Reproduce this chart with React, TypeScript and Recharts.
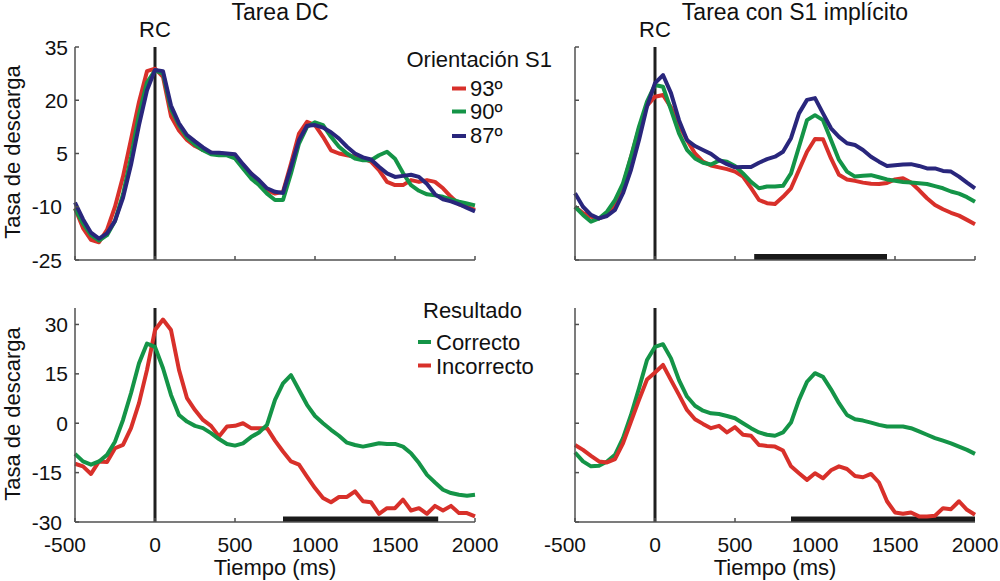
import React from "react";
import { LineChart, Line, XAxis, YAxis, ReferenceLine, ReferenceArea } from "recharts";

// time axis (ms), one sample every 50 ms
const times = [
  -500, -450, -400, -350, -300, -250, -200, -150, -100, -50,
  0, 50, 100, 150, 200, 250, 300, 350, 400, 450,
  500, 550, 600, 650, 700, 750, 800, 850, 900, 950,
  1000, 1050, 1100, 1150, 1200, 1250, 1300, 1350, 1400, 1450,
  1500, 1550, 1600, 1650, 1700, 1750, 1800, 1850, 1900, 1950, 2000,
];

// Tarea DC, orientation S1
const dc93 = [-10.4, -16, -19.3, -20, -16.5, -10, -1.5, 9, 19.5, 28.2, 28.9, 26.6, 15.5, 11.5, 8.8, 7.1, 6, 5.2, 5, 4.8, 4.1, 1.7, -0.6, -3, -5.3, -6.3, -5.8, 2.2, 10.6, 13.9, 13, 9.7, 5.9, 5, 4.5, 4.1, 3.6, 2.7, 0.3, -3, -3.9, -3.9, -2.5, -3, -2.5, -3, -4.8, -7.2, -9.3, -10, -10.9];
const dc90 = [-10.5, -14.7, -18, -19.5, -18, -14, -6.5, 4, 16, 25, 28.4, 27.5, 17.5, 13, 9.5, 7.5, 5.9, 4.8, 4.5, 4.5, 3.6, 0.8, -2, -3.9, -6.3, -8.1, -8.1, -0.6, 7.8, 12.5, 13.8, 13, 9.7, 6.9, 5, 3.6, 3.1, 3.1, 4.5, 5.5, 3.5, -0.5, -3.9, -5.5, -6.5, -6.8, -7.2, -7.9, -8.6, -9.1, -9.6];
const dc87 = [-8.8, -13.5, -17.3, -19, -17.5, -14, -7.5, 1.8, 13, 22.8, 28.5, 28.2, 18.5, 13.5, 10.2, 8.4, 6.7, 5.3, 5.2, 5, 4.8, 2, -0.6, -2.5, -4.8, -5.8, -6.1, 1.25, 8.8, 12.8, 13, 12.3, 11, 9.2, 6.9, 5, 3.9, 3.3, 1.25, -0.6, -1.6, -1.3, -1, -1.6, -3.6, -6.5, -7.9, -8.5, -9.3, -10.3, -11.3];

// Tarea con S1 implicito, orientation S1
const s1_93 = [-10, -11.8, -12.8, -13.3, -12.3, -9.5, -4, 4, 12, 18.5, 21, 21.5, 18, 13, 8.8, 5, 2.7, 1.6, 1.1, 0.6, -0.1, -1.5, -4.7, -8.1, -9, -9.2, -7.2, -4.8, 0.35, 5.5, 9.1, 9, 3.6, -1, -2.3, -2.7, -3.2, -3.5, -3.6, -3.3, -2.3, -2, -3.2, -5.3, -7.6, -9.5, -10.7, -11.7, -12.5, -13.7, -14.9];
const s1_90 = [-10, -12.3, -14.2, -13.3, -11.4, -8.1, -3.4, 4.1, 12.6, 19.6, 24.3, 23.8, 17.3, 10.7, 6, 3.6, 2.4, 1.9, 3, 2.7, 1.5, -0.6, -3, -4.8, -4.3, -4.3, -4.1, -0.6, 6.9, 14.4, 15.8, 14.4, 8.8, 3.2, -0.1, -1.5, -1.3, -1.1, -1.7, -2.3, -2.7, -3, -3.2, -3.4, -3.6, -4.2, -4.8, -5.7, -6.3, -7.3, -8.6];
const s1_87 = [-6.2, -10, -12.3, -13.3, -12.6, -10.9, -6.2, 0.4, 8.8, 18.2, 24.8, 27.1, 22, 14.4, 8.8, 7.1, 6, 4.9, 3.2, 2, 1.1, 1.2, 1.2, 2.4, 3.4, 4.1, 5.5, 9.3, 16.3, 20.1, 20.6, 16.3, 12.1, 9.7, 7.9, 7.4, 6, 4.1, 2.7, 1.5, 1.7, 1.9, 2, 1.5, 0.8, 0.8, 0.1, -0.1, -1.5, -3.2, -4.8];

// Resultado (correct / incorrect)
const dcCorrect = [-9.3, -11.6, -12.6, -11.6, -9.6, -5.6, 1, 9.1, 18.2, 24.2, 23.2, 16.7, 8.6, 2.5, 0.5, -0.8, -1.5, -3, -4.8, -6.3, -6.8, -6.1, -4.2, -2.8, -0.5, 7.1, 12.1, 14.6, 10.1, 5.6, 2.2, 0, -2, -3.8, -5.9, -6.6, -7.1, -6.6, -6.1, -6.3, -6.3, -7.1, -9.1, -12.1, -15.7, -18, -20.2, -21.2, -21.7, -22, -21.7];
const dcIncorrect = [-12.3, -13.1, -15.4, -11.6, -11.8, -7.6, -6.6, -1.5, 6.1, 16.2, 28.3, 31.5, 28.3, 16.2, 7.6, 4, 1, -0.8, -4, -1, -0.8, 0, -1.5, -1.5, -1.5, -5.3, -8.6, -11.6, -12.6, -16.2, -19.7, -22.7, -24, -22.4, -22.4, -20.7, -23.7, -24, -27.5, -25.8, -25.8, -23.2, -26.5, -25.8, -27.5, -25.1, -26.5, -25.1, -27.3, -27.3, -28.3];
const s1Correct = [-8.9, -11.6, -13.1, -12.9, -11.6, -9.6, -4.5, 2.5, 10.6, 19.2, 23.2, 24, 19.7, 13.1, 8.1, 5.3, 3.8, 3, 2.8, 2.2, 1.5, 0, -1.5, -2.8, -3.5, -3.8, -2.8, 0.2, 7.1, 12.6, 15.2, 14.1, 10.3, 6.1, 2.5, 1.2, 0.8, 0.2, -0.5, -1, -1, -1, -1.5, -2.5, -3.5, -4.5, -5.3, -6.1, -7.1, -8.1, -9.3];
const s1Incorrect = [-6.6, -8.1, -9.9, -11.6, -11.9, -10.9, -6.1, 0.5, 7.1, 13.3, 15.4, 17.7, 13.1, 8.6, 4, 1.2, -0.2, -1.5, -0.8, -2.8, -1.2, -3.5, -3.8, -6.6, -6.9, -7.1, -8.3, -13.1, -15.2, -17.2, -15.2, -16.7, -14.3, -13.1, -13.9, -16, -16.4, -15.4, -18, -23.7, -27.1, -27.5, -27.1, -28.3, -28.3, -28.1, -25.8, -26.1, -23.7, -26.3, -27.8];

// axis ticks
const timeTicks = [-500, 0, 500, 1000, 1500, 2000];
const topTicks = [-25, -10, 5, 20, 35];
const bottomTicks = [-30, -15, 0, 15, 30];

// significance intervals (ms)
const sigImplicitTop = [620, 1450];
const sigDcBottom = [800, 1770];
const sigImplicitBottom = [850, 2000];

const RED = "#d8302a";
const GREEN = "#149447";
const BLUE = "#29267c";
const AXIS = "#505050";
const BAR = "#1a1a1a";
const INK = "#111";
const FONT = '"Liberation Sans", Arial, sans-serif';

type SeriesDef = { key: string; values: number[]; color: string };

const XTick = (props: any) => {
  const { x, y, payload, showLabel, sig } = props;
  const v = payload.value;
  // tick marks under a significance bar are hidden by it
  const covered = sig && v >= sig[0] && v <= sig[1];
  return (
    <g>
      {!covered && <line x1={x} y1={y} x2={x} y2={y - 4} stroke={AXIS} strokeWidth={1.5} />}
      {showLabel && (
        <text x={v < 0 ? x - 10 : x} y={y + 30} textAnchor="middle" fontSize={21} fill={INK} fontFamily={FONT}>
          {v}
        </text>
      )}
    </g>
  );
};

const YTick = (props: any) => {
  const { x, y, payload, showLabel } = props;
  const v = payload.value;
  return (
    <g>
      <line x1={x} y1={y} x2={x + 4} y2={y} stroke={AXIS} strokeWidth={1.5} />
      {showLabel && (
        <text x={v < 0 ? x - 13 : x - 7} y={y + 7.5} textAnchor="end" fontSize={21} fill={INK} fontFamily={FONT}>
          {v}
        </text>
      )}
    </g>
  );
};

type PanelProps = {
  left: number;
  top: number;
  height: number;
  marginTop: number;
  xAxisHeight: number;
  yDomain: number[];
  yTicks: number[];
  series: SeriesDef[];
  showXLabels: boolean;
  showYLabels: boolean;
  sig?: number[];
  rc?: boolean;
};

const Panel = ({ left, top, height, marginTop, xAxisHeight, yDomain, yTicks, series, showXLabels, showYLabels, sig, rc }: PanelProps) => {
  const data = times.map((t, i) => {
    const row: Record<string, number> = { t };
    series.forEach((s) => (row[s.key] = s.values[i]));
    return row;
  });
  return (
    <div style={{ position: "absolute", left, top }}>
      <LineChart width={500} height={height} data={data} margin={{ top: marginTop, right: 25, bottom: 0, left: 0 }}>
        <XAxis
          dataKey="t"
          type="number"
          domain={[-500, 2000]}
          ticks={timeTicks}
          interval={0}
          height={xAxisHeight}
          axisLine={{ stroke: AXIS, strokeWidth: 1.5 }}
          tickLine={false}
          tickSize={0}
          tickMargin={0}
          tick={(p: any) => <XTick {...p} showLabel={showXLabels} sig={sig} />}
        />
        <YAxis
          type="number"
          domain={yDomain}
          ticks={yTicks}
          interval={0}
          width={75}
          axisLine={{ stroke: AXIS, strokeWidth: 1.5 }}
          tickLine={false}
          tickSize={0}
          tickMargin={0}
          tick={(p: any) => <YTick {...p} showLabel={showYLabels} />}
        />
        {sig && (
          <ReferenceArea
            x1={sig[0]}
            x2={sig[1]}
            y1={yDomain[0]}
            y2={yDomain[0] + 1.7}
            fill={BAR}
            fillOpacity={1}
            stroke="none"
          />
        )}
        <ReferenceLine
          x={0}
          stroke="#1f1f1f"
          strokeWidth={3}
          label={rc ? { value: "RC", position: "top", offset: 10, fontSize: 22, fill: INK, fontFamily: FONT } : undefined}
        />
        {series.map((s) => (
          <Line
            key={s.key}
            type="linear"
            dataKey={s.key}
            stroke={s.color}
            strokeWidth={4}
            strokeLinejoin="round"
            dot={false}
            activeDot={false}
            isAnimationActive={false}
          />
        ))}
      </LineChart>
    </div>
  );
};

export default function App() {
  const orientDC: SeriesDef[] = [
    { key: "o93", values: dc93, color: RED },
    { key: "o90", values: dc90, color: GREEN },
    { key: "o87", values: dc87, color: BLUE },
  ];
  const orientS1: SeriesDef[] = [
    { key: "o93", values: s1_93, color: RED },
    { key: "o90", values: s1_90, color: GREEN },
    { key: "o87", values: s1_87, color: BLUE },
  ];
  const resultDC: SeriesDef[] = [
    { key: "inc", values: dcIncorrect, color: RED },
    { key: "cor", values: dcCorrect, color: GREEN },
  ];
  const resultS1: SeriesDef[] = [
    { key: "cor", values: s1Correct, color: GREEN },
    { key: "inc", values: s1Incorrect, color: RED },
  ];

  return (
    <div style={{ position: "absolute", left: 0, top: 0, width: 1000, height: 581, background: "#fff", fontFamily: FONT }}>
      <Panel left={0} top={0} height={290} marginTop={47} xAxisHeight={30} yDomain={[-25, 35]} yTicks={topTicks}
        series={orientDC} showXLabels={false} showYLabels rc />
      <Panel left={500} top={0} height={290} marginTop={47} xAxisHeight={30} yDomain={[-25, 35]} yTicks={topTicks}
        series={orientS1} showXLabels={false} showYLabels={false} rc sig={sigImplicitTop} />
      <Panel left={0} top={290} height={291} marginTop={18} xAxisHeight={59} yDomain={[-30, 35]} yTicks={bottomTicks}
        series={resultDC} showXLabels showYLabels sig={sigDcBottom} />
      <Panel left={500} top={290} height={291} marginTop={18} xAxisHeight={59} yDomain={[-30, 35]} yTicks={bottomTicks}
        series={resultS1} showXLabels showYLabels={false} sig={sigImplicitBottom} />

      <svg width={1000} height={581} style={{ position: "absolute", left: 0, top: 0, pointerEvents: "none" }} fontFamily={FONT} fill={INK}>
        <text x={280} y={20} textAnchor="middle" fontSize={23}>Tarea DC</text>
        <text x={795} y={20} textAnchor="middle" fontSize={23}>Tarea con S1 implícito</text>

        <text transform="translate(19.5,152) rotate(-90)" textAnchor="middle" fontSize={22}>Tasa de descarga</text>
        <text transform="translate(19.5,414) rotate(-90)" textAnchor="middle" fontSize={22}>Tasa de descarga</text>
        <text x={275} y={575} textAnchor="middle" fontSize={22}>Tiempo (ms)</text>
        <text x={775} y={575} textAnchor="middle" fontSize={22}>Tiempo (ms)</text>

        <text x={552} y={67} textAnchor="end" fontSize={22}>Orientación S1</text>
        <line x1={452} y1={88.5} x2={466} y2={88.5} stroke={RED} strokeWidth={4} />
        <text x={470} y={96} fontSize={22}>93º</text>
        <line x1={452} y1={111.5} x2={466} y2={111.5} stroke={GREEN} strokeWidth={4} />
        <text x={470} y={119} fontSize={22}>90º</text>
        <line x1={452} y1={136} x2={466} y2={136} stroke={BLUE} strokeWidth={4} />
        <text x={470} y={143} fontSize={22}>87º</text>

        <text x={423} y={318} fontSize={22}>Resultado</text>
        <line x1={418} y1={342} x2={431} y2={342} stroke={GREEN} strokeWidth={4} />
        <text x={436} y={350} fontSize={22}>Correcto</text>
        <line x1={418} y1={365.5} x2={431} y2={365.5} stroke={RED} strokeWidth={4} />
        <text x={436} y={374} fontSize={22}>Incorrecto</text>
      </svg>
    </div>
  );
}
